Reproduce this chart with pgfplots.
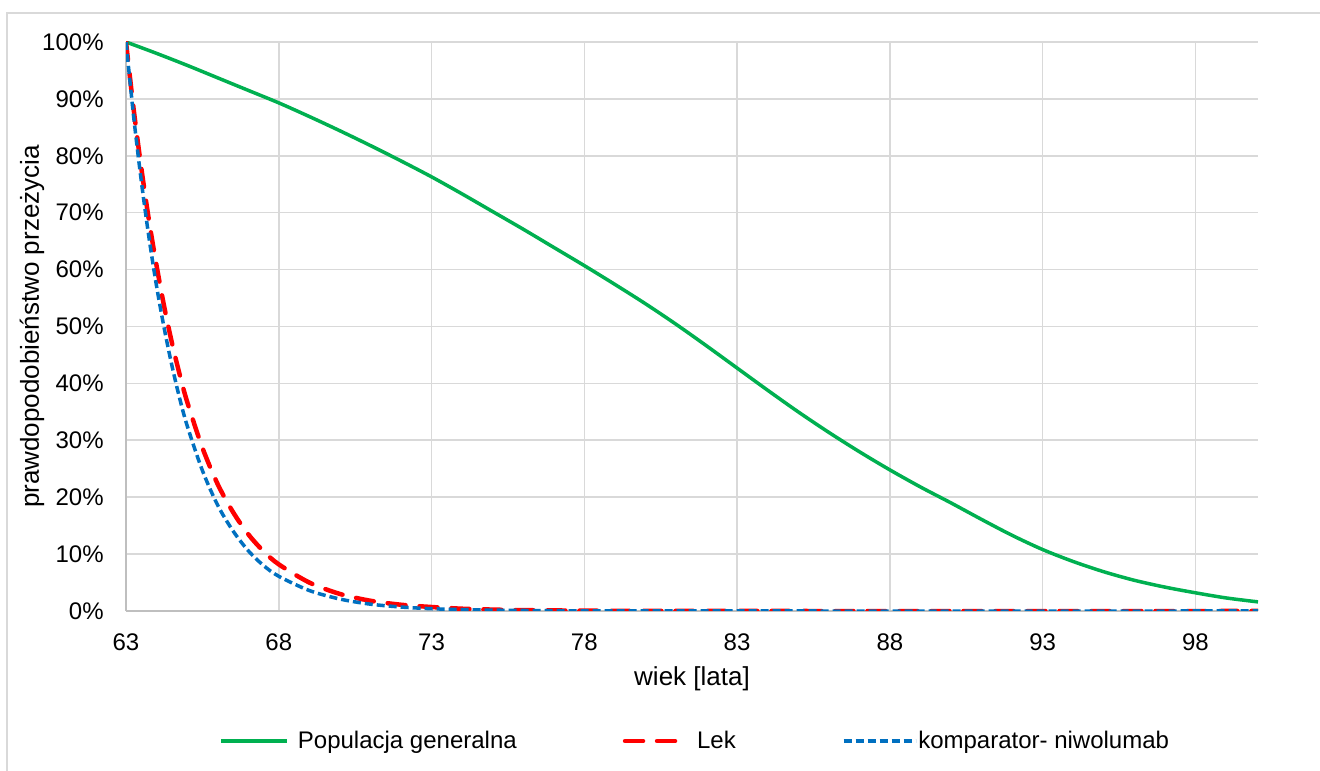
\documentclass[border=0pt]{standalone}
\usepackage{fontspec}
\setmainfont{Liberation Sans}
\usepackage{pgfplots}
\pgfplotsset{compat=1.18}
\definecolor{cgreen}{HTML}{00B050}
\definecolor{cred}{HTML}{FF0000}
\definecolor{cblue}{HTML}{0070C0}
\definecolor{cgrid}{HTML}{D9D9D9}
\definecolor{caxis}{HTML}{BFBFBF}
\pgfplotsset{
  legA/.style={legend image code/.code={\draw[##1] (0pt,0pt) -- (33pt,0pt); \path (37.5pt,0pt);}},
  legB/.style={legend image code/.code={\draw[##1] (1.1pt,0pt) -- (27.4pt,0pt); \path (36pt,0pt);}},
  legC/.style={legend image code/.code={\draw[##1] (0pt,0pt) -- (36pt,0pt); \path (36.5pt,0pt);}},
}
\begin{document}
\begin{tikzpicture}
\useasboundingbox (0pt,0pt) rectangle (660pt,385pt);
\draw[cgrid, line width=0.8pt] (3.5pt,-5pt) -- (3.5pt,378.5pt) -- (670pt,378.5pt);
\begin{axis}[
  at={(63pt,79.5pt)}, anchor=south west,
  scale only axis, width=566pt, height=284.5pt,
  xmin=63, xmax=100.05, ymin=0, ymax=100,
  axis x line*=bottom, axis y line*=left,
  axis line style={caxis, line width=0.8pt, -},
  xtick={63,68,...,98},
  xticklabels={63,68,73,78,83,88,93,98},
  ytick={0,10,...,100},
  yticklabels={0\%,10\%,20\%,30\%,40\%,50\%,60\%,70\%,80\%,90\%,100\%},
  major tick length=0pt,
  grid=major, major grid style={cgrid, line width=0.8pt},
  tick label style={font=\fontsize{12}{14}\selectfont, text=black},
  yticklabel style={anchor=east, inner sep=0pt, xshift=-11pt},
  xticklabel style={anchor=north, inner sep=0pt, yshift=-11pt},
  xlabel={wiek [lata]},
  ylabel={prawdopodobieństwo przeżycia},
  label style={font=\fontsize{13}{15}\selectfont},
  x label style={at={(axis description cs:0.5,0)}, anchor=center, yshift=-34pt},
  y label style={at={(axis description cs:-0.083,0.5)}, anchor=center, rotate=0},
  legend columns=3,
  legend style={at={(0.0822,-0.2285)}, anchor=west, draw=none, fill=none,
    inner sep=0pt,
    font=\fontsize{12}{14}\selectfont,
    /tikz/every even column/.append style={column sep=53pt},
    nodes={inner xsep=0pt}},
]
\addplot[cgreen, line width=1.75pt, smooth, legA] coordinates {
(63,100) (64,98.0) (65,95.9) (66,93.7) (67,91.5) (68,89.3) (69,86.9) (70,84.4)
(71,81.8) (72,79.1) (73,76.3) (74,73.3) (75,70.2) (76,67.1) (77,63.9) (78,60.7)
(79,57.4) (80,54.0) (81,50.4) (82,46.6) (83,42.7) (84,38.8) (85,35.0) (86,31.4)
(87,28.0) (88,24.8) (89,21.8) (90,19.0) (91,16.1) (92,13.3) (93,10.8) (94,8.7)
(95,6.9) (96,5.4) (97,4.2) (98,3.2) (99,2.3) (100.05,1.6)
};
\addlegendentry{Populacja generalna}
\addplot[cred, line width=2.25pt, line cap=round, dash pattern=on 9pt off 7pt, smooth, legB] coordinates {
(63,100) (63.25,88.2) (63.5,77.9) (63.75,68.7) (64,60.7) (64.25,53.5) (64.5,47.2)
(64.75,41.7) (65,36.8) (65.5,28.7) (66,22.3) (66.5,17.4) (67,13.5) (67.5,10.5)
(68,8.2) (69,5.0) (70,3.0) (71,1.8) (72,1.1) (73,0.7) (74,0.4) (75,0.25) (76,0.15)
(78,0.06) (80,0.02) (85,0) (100.05,0)
};
\addlegendentry{Lek}
\addplot[cblue, line width=1.75pt, dash pattern=on 4pt off 2pt, smooth, legC] coordinates {
(63,100) (63.25,86.9) (63.5,75.6) (63.75,65.7) (64,57.1) (64.25,49.7) (64.5,43.2)
(64.75,37.5) (65,32.6) (65.5,24.7) (66,18.6) (66.5,14.1) (67,10.6) (67.5,8.0)
(68,6.1) (69,3.6) (70,2.1) (71,1.2) (72,0.7) (73,0.4) (74,0.25) (75,0.15)
(77,0.05) (80,0.01) (85,0) (100.05,0)
};
\addlegendentry{komparator- niwolumab}
\end{axis}
\end{tikzpicture}
\end{document}
